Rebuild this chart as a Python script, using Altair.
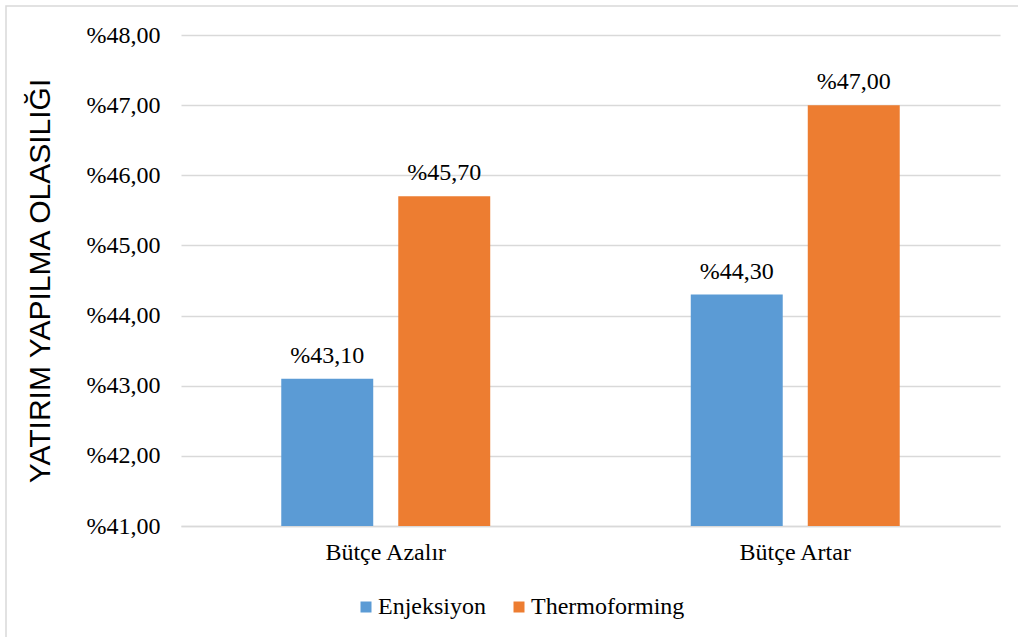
import altair as alt
import pandas as pd

categories = ["Bütçe Azalır", "Bütçe Azalır", "Bütçe Artar", "Bütçe Artar"]
series = ["Enjeksiyon", "Thermoforming", "Enjeksiyon", "Thermoforming"]
values = [43.10, 45.70, 44.30, 47.00]
cat_order = ["Bütçe Azalır", "Bütçe Artar"]
series_order = ["Enjeksiyon", "Thermoforming"]
colors = ["#5B9BD5", "#ED7D31"]
y_ticks = [41, 42, 43, 44, 45, 46, 47, 48]

df = pd.DataFrame({"cat": categories, "series": series, "value": values})

SERIF = "Liberation Serif"
SANS = "Liberation Sans"
FS = 24

x_enc = alt.X("cat:N", sort=cat_order,
              scale=alt.Scale(paddingInner=0, paddingOuter=0),
              axis=alt.Axis(title=None, labelFont=SERIF, labelFontSize=FS,
                            labelColor="#000000", labelPadding=14, ticks=False,
                            domainColor="#D9D9D9", domainWidth=1.3, labelAngle=0))
xoff = alt.XOffset("series:N", sort=series_order,
                   scale=alt.Scale(paddingInner=0.214, paddingOuter=0.857))
y_enc = alt.Y("value:Q",
              scale=alt.Scale(domain=[41, 48], zero=False, nice=False),
              axis=alt.Axis(values=y_ticks, grid=True, gridColor="#D9D9D9", gridWidth=1.3,
                            domain=False, ticks=False,
                            labelExpr="'%' + replace(format(datum.value, '.2f'), '.', ',')",
                            labelFont=SERIF, labelFontSize=FS, labelColor="#000000",
                            labelPadding=21,
                            title="YATIRIM YAPILMA OLASILIĞI", titleFont=SANS,
                            titleFontSize=30, titleFontWeight="normal", titleColor="#000000",
                            titleAngle=270, titleX=-141, titleY=245.5,
                            titleBaseline="middle", titleAlign="center"))

base = alt.Chart(df).encode(x=x_enc, xOffset=xoff, y=y_enc)

bars = base.mark_bar(clip=True).encode(
    y2=alt.datum(41),
    color=alt.Color("series:N", sort=series_order,
                    scale=alt.Scale(domain=series_order, range=colors),
                    legend=alt.Legend(title=None, orient="none", direction="horizontal",
                                      legendX=173, legendY=560, padding=0,
                                      symbolType="square", symbolSize=121,
                                      symbolStrokeWidth=0, labelFont=SERIF,
                                      labelFontSize=FS, labelColor="#000000",
                                      labelOffset=0, columnPadding=21)),
)

labels = base.transform_calculate(
    lbl="'%' + replace(format(datum.value, '.2f'), '.', ',')"
).mark_text(font=SERIF, fontSize=FS, color="#000000", baseline="alphabetic", dy=-16).encode(
    text="lbl:N",
)

border = alt.Chart(alt.Data(values=[{}])).mark_rect(
    fillOpacity=0, stroke="#D9D9D9", strokeWidth=1.5
).encode(x=alt.value(-175), x2=alt.value(1100), y=alt.value(-29), y2=alt.value(700))

chart = alt.layer(border, bars, labels).properties(
    width=819, height=491,
    autosize=alt.AutoSizeParams(type="none"),
    padding={"left": 181, "top": 35, "right": 18, "bottom": 111},
).configure(background="white").configure_view(strokeWidth=0)

chart.save("out.html", embed_options={"renderer": "svg", "actions": False})
